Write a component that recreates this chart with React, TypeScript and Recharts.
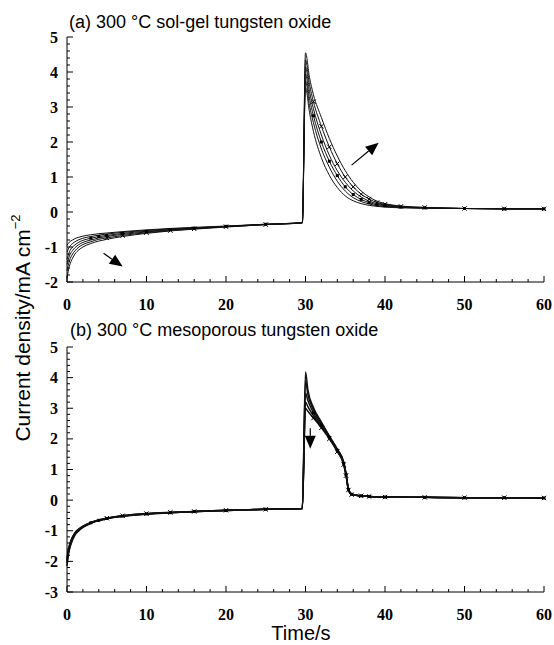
import React from 'react'
import { LineChart, Line, XAxis, YAxis, ReferenceLine } from 'recharts'

// time axis (s) for each panel
const timeA = [0, 0.3, 0.7, 1, 1.5, 2, 3, 4, 5, 7, 10, 13, 16, 20, 25, 29.6, 30, 30.5, 31, 32, 33, 34, 35, 36, 37, 38, 39, 40, 42, 45, 50, 55, 60]
const timeB = [0, 0.2, 0.5, 1, 1.5, 2, 3, 4, 5, 7, 10, 13, 16, 20, 25, 29.6, 30, 30.3, 31, 32, 33, 34, 34.8, 35.1, 35.4, 35.8, 37, 38, 40, 45, 50, 55, 60]

// (a) sol-gel, current density mA cm-2
const a1 = [-0.95, -0.86, -0.8, -0.76, -0.72, -0.69, -0.65, -0.62, -0.6, -0.56, -0.51, -0.47, -0.44, -0.4, -0.35, -0.3,
  3.55, 2.85, 2.3, 1.55, 1.05, 0.7, 0.46, 0.32, 0.24, 0.19, 0.16, 0.14, 0.12, 0.11, 0.1, 0.09, 0.09]
const a2 = [-1.15, -1.0, -0.9, -0.85, -0.79, -0.75, -0.7, -0.66, -0.63, -0.58, -0.53, -0.48, -0.45, -0.41, -0.35, -0.3,
  3.75, 3.05, 2.55, 1.8, 1.28, 0.88, 0.6, 0.41, 0.3, 0.23, 0.18, 0.16, 0.13, 0.11, 0.1, 0.09, 0.09]
const a3 = [-1.35, -1.14, -1.0, -0.94, -0.86, -0.81, -0.75, -0.7, -0.67, -0.61, -0.55, -0.5, -0.46, -0.41, -0.35, -0.31,
  3.95, 3.25, 2.75, 2.0, 1.45, 1.04, 0.72, 0.5, 0.36, 0.27, 0.21, 0.18, 0.14, 0.12, 0.1, 0.09, 0.09]
const a4 = [-1.5, -1.26, -1.1, -1.02, -0.93, -0.87, -0.8, -0.74, -0.7, -0.64, -0.57, -0.51, -0.47, -0.42, -0.36, -0.31,
  4.15, 3.45, 2.95, 2.2, 1.62, 1.18, 0.85, 0.6, 0.43, 0.31, 0.24, 0.2, 0.15, 0.12, 0.1, 0.09, 0.09]
const a5 = [-1.68, -1.4, -1.2, -1.11, -1.0, -0.93, -0.85, -0.78, -0.74, -0.67, -0.59, -0.53, -0.48, -0.42, -0.36, -0.31,
  4.35, 3.65, 3.15, 2.45, 1.86, 1.38, 1.0, 0.72, 0.51, 0.37, 0.27, 0.22, 0.16, 0.13, 0.1, 0.09, 0.09]
const a6 = [-1.88, -1.55, -1.32, -1.2, -1.08, -1.0, -0.9, -0.83, -0.78, -0.7, -0.61, -0.54, -0.49, -0.43, -0.36, -0.31,
  4.55, 3.85, 3.35, 2.7, 2.1, 1.6, 1.18, 0.85, 0.6, 0.43, 0.31, 0.24, 0.17, 0.13, 0.1, 0.09, 0.09]

// (b) mesoporous
const b1 = [-2.15, -1.75, -1.44, -1.14, -1.0, -0.89, -0.76, -0.67, -0.61, -0.53, -0.46, -0.41, -0.38, -0.34, -0.3, -0.27,
  4.18, 3.6, 3.02, 2.55, 2.1, 1.67, 1.25, 0.88, 0.38, 0.2, 0.14, 0.12, 0.1, 0.09, 0.08, 0.08, 0.07]
const b2 = [-2.05, -1.7, -1.4, -1.12, -0.98, -0.88, -0.75, -0.66, -0.6, -0.52, -0.45, -0.41, -0.38, -0.34, -0.3, -0.27,
  3.9, 3.45, 2.95, 2.5, 2.07, 1.65, 1.22, 0.85, 0.36, 0.19, 0.14, 0.12, 0.1, 0.09, 0.08, 0.08, 0.07]
const b3 = [-2.0, -1.66, -1.37, -1.1, -0.96, -0.87, -0.74, -0.66, -0.6, -0.52, -0.45, -0.41, -0.37, -0.34, -0.3, -0.27,
  3.5, 3.25, 2.85, 2.45, 2.05, 1.63, 1.2, 0.84, 0.35, 0.19, 0.14, 0.12, 0.1, 0.09, 0.08, 0.08, 0.07]
const b4 = [-1.95, -1.62, -1.34, -1.08, -0.95, -0.86, -0.74, -0.65, -0.59, -0.51, -0.45, -0.4, -0.37, -0.33, -0.3, -0.27,
  3.2, 3.05, 2.75, 2.4, 2.02, 1.6, 1.18, 0.82, 0.34, 0.19, 0.14, 0.12, 0.1, 0.09, 0.08, 0.08, 0.07]
const b5 = [-1.9, -1.58, -1.31, -1.06, -0.94, -0.85, -0.73, -0.65, -0.59, -0.51, -0.44, -0.4, -0.37, -0.33, -0.3, -0.27,
  3.0, 2.9, 2.68, 2.36, 2.0, 1.58, 1.16, 0.8, 0.33, 0.18, 0.14, 0.12, 0.1, 0.09, 0.08, 0.08, 0.07]

const xMajor = [0, 10, 20, 30, 40, 50, 60]
const yMajorA = [-2, -1, 0, 1, 2, 3, 4, 5]
const yMajorB = [-3, -2, -1, 0, 1, 2, 3, 4, 5]

// arrows: [t1, j1, t2, j2]
const arrowsA = [[4.6, -1.18, 7.0, -1.56], [35.8, 1.34, 39.2, 1.98]]
const arrowsB = [[30.6, 2.35, 30.6, 1.68]]

const range = (a: number, b: number, s: number) => {
  const out: number[] = []
  for (let v = a; v <= b + 1e-9; v += s) out.push(Math.round(v * 10) / 10)
  return out
}

const tickStyle = { fontFamily: '"Liberation Serif", "Times New Roman", serif', fontWeight: 700, fontSize: 16 }

const buildRows = (time: number[], series: number[][]) =>
  time.map((t, i) => {
    const row: any = { t }
    series.forEach((s, k) => (row['s' + k] = s[i]))
    return row
  })

const makeTick = (side: string, major: number[], labels: boolean) => (p: any) => {
  const { x, y, payload } = p
  const isMajor = major.includes(payload.value)
  const len = isMajor ? 6 : 3
  let line
  if (side === 'left') line = <line x1={x} x2={x + len} y1={y} y2={y} stroke="#000" />
  else if (side === 'right') line = <line x1={x} x2={x - len} y1={y} y2={y} stroke="#000" />
  else if (side === 'bottom') line = <line x1={x} x2={x} y1={y} y2={y - len} stroke="#000" />
  else line = <line x1={x} x2={x} y1={y} y2={y + len} stroke="#000" />
  return (
    <g>
      {line}
      {labels && isMajor && side === 'left' && (
        <text x={x - 9} y={y} textAnchor="end" dominantBaseline="central" style={tickStyle} fill="#000">
          {payload.value}
        </text>
      )}
      {labels && isMajor && side === 'bottom' && (
        <text x={x} y={y + 22} textAnchor="middle" dominantBaseline="central" style={tickStyle} fill="#000">
          {payload.value}
        </text>
      )}
    </g>
  )
}

const Arrow = (p: any) => {
  const { x1, y1, x2, y2 } = p
  const ang = Math.atan2(y2 - y1, x2 - x1)
  const hl = 13
  const hw = 5.5
  const bx = x2 - hl * Math.cos(ang)
  const by = y2 - hl * Math.sin(ang)
  const nx = -Math.sin(ang) * hw
  const ny = Math.cos(ang) * hw
  return (
    <g>
      <line x1={x1} y1={y1} x2={bx} y2={by} stroke="#000" strokeWidth={1.2} />
      <polygon points={`${x2},${y2} ${bx + nx},${by + ny} ${bx - nx},${by - ny}`} fill="#000" />
    </g>
  )
}

const squareDot = (p: any) => {
  const { cx, cy, payload, index } = p
  if (payload.t < 3 || (payload.t > 29 && payload.t < 31)) return <g key={'sq' + index} />
  return <rect key={'sq' + index} x={cx - 1.5} y={cy - 1.5} width={3} height={3} fill="#000" />
}

const crossDot = (p: any) => {
  const { cx, cy, payload, index } = p
  if (payload.t < 5 || (payload.t > 29 && payload.t < 31)) return <g key={'cx' + index} />
  return (
    <g key={'cx' + index}>
      <line x1={cx - 2.2} y1={cy - 2.2} x2={cx + 2.2} y2={cy + 2.2} stroke="#000" strokeWidth={1} />
      <line x1={cx - 2.2} y1={cy + 2.2} x2={cx + 2.2} y2={cy - 2.2} stroke="#000" strokeWidth={1} />
    </g>
  )
}

function Panel({ top, time, series, yMajor, arrows, width }: any) {
  const rows = buildRows(time, series)
  const y0 = yMajor[0]
  const y1 = yMajor[yMajor.length - 1]
  const xMinor = range(0, 60, 2)
  const yMinor = range(y0, y1, 0.2)
  return (
    <div style={{ position: 'absolute', left: 0, top }}>
      <LineChart width={554} height={320} data={rows} margin={{ top: 37, right: 10, bottom: 8, left: 37 }}>
        <XAxis dataKey="t" type="number" domain={[0, 60]} ticks={xMinor} interval={0} height={30}
          tickSize={0} tickMargin={0} tickLine={false} axisLine={{ stroke: '#000' }}
          tick={makeTick('bottom', xMajor, true)} />
        <XAxis xAxisId="top" orientation="top" dataKey="t" type="number" domain={[0, 60]} ticks={xMinor}
          interval={0} height={0} tickSize={0} tickMargin={0} tickLine={false} axisLine={{ stroke: '#000' }}
          tick={makeTick('top', xMajor, false)} />
        <YAxis type="number" domain={[y0, y1]} ticks={yMinor} interval={0} width={30}
          tickSize={0} tickMargin={0} tickLine={false} axisLine={{ stroke: '#000' }}
          tick={makeTick('left', yMajor, true)} />
        <YAxis yAxisId="r" orientation="right" type="number" domain={[y0, y1]} ticks={yMinor} interval={0}
          width={0} tickSize={0} tickMargin={0} tickLine={false} axisLine={{ stroke: '#000' }}
          tick={makeTick('right', yMajor, false)} />
        {series.map((_: number[], k: number) => (
          <Line key={k} type="monotone" dataKey={'s' + k} stroke="#111" strokeWidth={width}
            dot={k === 2 ? squareDot : k === 4 ? crossDot : false} activeDot={false}
            isAnimationActive={false} />
        ))}
        {arrows.map((a: number[], i: number) => (
          <ReferenceLine key={'ar' + i} segment={[{ x: a[0], y: a[1] }, { x: a[2], y: a[3] }]}
            shape={Arrow} ifOverflow="visible" />
        ))}
      </LineChart>
    </div>
  )
}

export default function App() {
  const sans = '"Liberation Sans", Arial, sans-serif'
  return (
    <div style={{ position: 'absolute', left: 0, top: 0, width: 554, height: 645, background: '#fff' }}>
      <Panel top={0} time={timeA} series={[a1, a2, a3, a4, a5, a6]} yMajor={yMajorA} arrows={arrowsA} width={1} />
      <Panel top={310} time={timeB} series={[b1, b2, b3, b4, b5]} yMajor={yMajorB} arrows={arrowsB} width={1.5} />
      <svg width={554} height={645} style={{ position: 'absolute', left: 0, top: 0, pointerEvents: 'none' }}>
        <text x={69} y={28} fontFamily={sans} fontSize={18} fill="#000">(a) 300 °C sol-gel tungsten oxide</text>
        <text x={70} y={336} fontFamily={sans} fontSize={18} fill="#000">(b) 300 °C mesoporous tungsten oxide</text>
        <text x={301} y={640} textAnchor="middle" fontFamily={sans} fontSize={20} fill="#000">Time/s</text>
        <text transform="rotate(-90 22 328)" x={22} y={328} textAnchor="middle" dominantBaseline="central"
          fontFamily={sans} fontSize={21} fill="#000">
          Current density/mA cm<tspan dy={-7} fontSize={13}>−2</tspan>
        </text>
      </svg>
    </div>
  )
}
